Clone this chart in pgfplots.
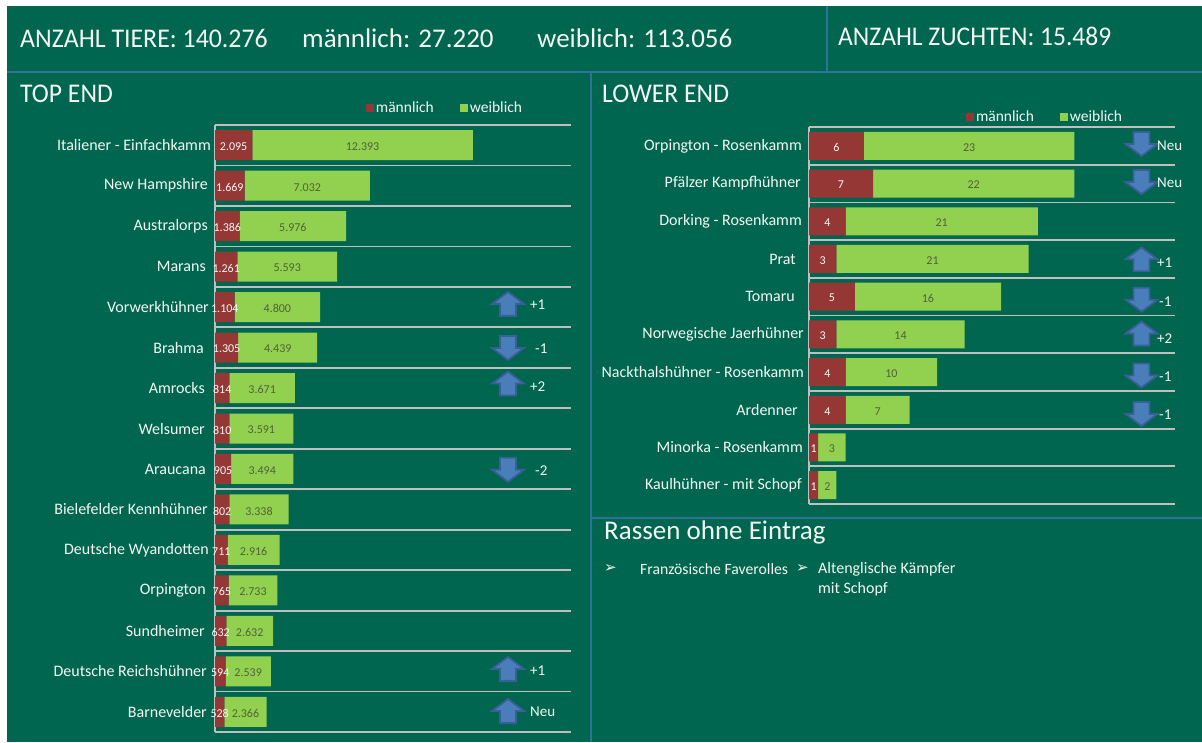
\documentclass[border=0pt]{standalone}
\usepackage{fontspec}
\setmainfont{Carlito}
\newfontfamily\symb{DejaVu Sans}
\usepackage{pgfplots}
\usepackage{pgfplotstable}
\pgfplotsset{compat=1.18}
\definecolor{bg}{HTML}{00664F}
\definecolor{sep}{HTML}{2F7299}
\definecolor{male}{HTML}{953735}
\definecolor{female}{HTML}{92D050}
\definecolor{gridc}{HTML}{BFBFBF}
\definecolor{arrf}{HTML}{4A7EBB}
\definecolor{arrd}{HTML}{3A5F96}
\definecolor{dlab}{HTML}{4F6238}
\definecolor{txt}{HTML}{F4F8F4}
\pgfdeclareplotmark{uparr}{%
 \pgfpathmoveto{\pgfqpoint{-16pt}{0pt}}\pgfpathlineto{\pgfqpoint{0pt}{12pt}}\pgfpathlineto{\pgfqpoint{16pt}{0pt}}%
 \pgfpathlineto{\pgfqpoint{8pt}{0pt}}\pgfpathlineto{\pgfqpoint{8pt}{-12pt}}\pgfpathlineto{\pgfqpoint{-8pt}{-12pt}}\pgfpathlineto{\pgfqpoint{-8pt}{0pt}}\pgfpathclose\pgfusepathqfillstroke}
\pgfdeclareplotmark{downarr}{%
 \pgfpathmoveto{\pgfqpoint{-16pt}{0pt}}\pgfpathlineto{\pgfqpoint{0pt}{-12pt}}\pgfpathlineto{\pgfqpoint{16pt}{0pt}}%
 \pgfpathlineto{\pgfqpoint{8pt}{0pt}}\pgfpathlineto{\pgfqpoint{8pt}{12pt}}\pgfpathlineto{\pgfqpoint{-8pt}{12pt}}\pgfpathlineto{\pgfqpoint{-8pt}{0pt}}\pgfpathclose\pgfusepathqfillstroke}
\pgfplotstableread{
m w
2095 12393
1669 7032
1386 5976
1261 5593
1104 4800
1305 4439
814 3671
810 3591
905 3494
802 3338
711 2916
765 2733
632 2632
594 2539
528 2366
}\topdata
\pgfplotstableread{
m w
6 23
7 22
4 21
3 21
5 16
3 14
4 10
4 7
1 3
1 2
}\lowdata
\pgfplotsset{
 barax/.style={scale only axis, clip=false, y dir=reverse,
  axis x line=none, axis y line*=left, y axis line style={-,draw=gridc,line width=1.8pt},
  major tick style={draw=none}, minor tick style={draw=none},
  yminorgrids=true, minor grid style={draw=gridc,line width=1.8pt},
  xbar stacked, bar shift=0pt,
  yticklabel style={font=\fontsize{16}{18}\selectfont, text=txt, anchor=east, inner sep=0pt, xshift=-4pt},
  legend columns=2, legend cell align=left,
  legend style={draw=none, fill=none, text=txt, font=\fontsize{15.5}{18}\selectfont, anchor=center,
    /tikz/every even column/.append style={column sep=24pt}, inner sep=0pt},
  legend image code/.code={\fill[##1] (0pt,-4pt) rectangle (8pt,4pt);},
 },
 labax/.style={scale only axis, clip=false, y dir=reverse, hide axis,
  /pgf/number format/.cd, fixed, 1000 sep={.}, assume math mode=true, /pgfplots/.cd},
 mlab/.style={draw=none, mark=none, nodes near coords, point meta=explicit,
  every node near coord/.append style={anchor=center, inner sep=0pt, yshift=-1.5pt, text=txt, font=\fontsize{12}{14}\selectfont}},
 flab/.style={draw=none, mark=none, nodes near coords, point meta=explicit,
  every node near coord/.append style={anchor=center, inner sep=0pt, yshift=-1.5pt, text=dlab, font=\fontsize{12}{14}\selectfont}},
 arr/.style={only marks, mark=#1, mark options={fill=arrf, draw=arrd, line width=1.8pt}},
 arrlab/.style={draw=none, mark=none, nodes near coords, point meta=explicit symbolic,
  every node near coord/.append style={anchor=west, inner sep=0pt, text=txt, font=\fontsize{15}{18}\selectfont}},
}
\begin{document}
\begin{tikzpicture}
\path[use as bounding box] (0pt,0pt) rectangle (1202pt,-742pt);
\fill[white] (0pt,0pt) rectangle (1202pt,-742pt);
\fill[bg] (7pt,-6pt) rectangle (1202pt,-742pt);
\draw[sep,line width=1.4pt] (7pt,-72pt) -- (1202pt,-72pt);
\draw[sep,line width=1.4pt] (827pt,-6pt) -- (827pt,-72pt);
\draw[sep,line width=1.4pt] (591pt,-72pt) -- (591pt,-742pt);
\draw[sep,line width=1.4pt] (591pt,-518pt) -- (1202pt,-518pt);

\begin{axis}[barax, at={(215pt,-732pt)}, anchor=south west, width=356pt, height=607pt,
  xmin=0, xmax=20000, ymin=-0.5, ymax=14.5, bar width=30pt,
  ytick={0,...,14}, minor ytick={-0.5,0.5,...,14.5},
  yticklabels={Italiener - Einfachkamm,New Hampshire\kern3pt,Australorps\kern3pt,Marans\kern5pt,Vorwerkhühner\kern2pt,Brahma\kern7pt,Amrocks\kern6pt,Welsumer\kern6pt,Araucana\kern5pt,Bielefelder Kennhühner\kern3pt,Deutsche Wyandotten\kern2pt,Orpington\kern5pt,Sundheimer\kern6pt,Deutsche Reichshühner\kern4pt,Barnevelder\kern4pt},
  legend style={at={(0.646,1.028)}}]
\addplot[fill=male,draw=none] table[x=m,y expr=\coordindex]{\topdata};
\addplot[fill=female,draw=none] table[x=w,y expr=\coordindex]{\topdata};
\legend{männlich,weiblich}
\end{axis}
\begin{axis}[labax, at={(215pt,-732pt)}, anchor=south west, width=356pt, height=607pt,
  xmin=0, xmax=20000, ymin=-0.5, ymax=14.5]
\addplot[mlab] table[x expr=\thisrow{m}/2,y expr=\coordindex,meta=m]{\topdata};
\addplot[flab] table[x expr=\thisrow{m}+\thisrow{w}/2,y expr=\coordindex,meta=w]{\topdata};
\addplot[arr=uparr] table[x=x,y=y]{
x y
16461 3.92
16461 5.89
16461 12.94
16461 13.98
};
\addplot[arr=downarr] table[x=x,y=y]{
x y
16461 5.01
16461 8.02
};
\addplot[arrlab] table[x=x,y=y,meta=t]{
x y t
17697 3.95 +1
17978 5.03 -1
17697 5.97 +2
17978 8.05 -2
17697 12.99 +1
17697 14.0 Neu
};
\end{axis}

\begin{axis}[barax, at={(809pt,-504pt)}, anchor=south west, width=366pt, height=377pt,
  xmin=0, xmax=40, ymin=-0.5, ymax=9.5, bar width=28pt,
  ytick={0,...,9}, minor ytick={-0.5,0.5,...,9.5},
  yticklabels={Orpington - Rosenkamm\kern3pt,Pfälzer Kampfhühner\kern4pt,Dorking - Rosenkamm\kern3pt,Prat\kern9pt,Tomaru\kern10pt,Norwegische Jaerhühner\kern1pt,Nackthalshühner - Rosenkamm\kern1pt,Ardenner\kern7pt,Minorka - Rosenkamm\kern2pt,Kaulhühner - mit Schopf\kern3pt},
  legend style={at={(0.645,1.0265)}}]
\addplot[fill=male,draw=none] table[x=m,y expr=\coordindex]{\lowdata};
\addplot[fill=female,draw=none] table[x=w,y expr=\coordindex]{\lowdata};
\legend{männlich,weiblich}
\end{axis}
\begin{axis}[labax, at={(809pt,-504pt)}, anchor=south west, width=366pt, height=377pt,
  xmin=0, xmax=40, ymin=-0.5, ymax=9.5]
\addplot[mlab] table[x expr=\thisrow{m}/2,y expr=\coordindex,meta=m]{\lowdata};
\addplot[flab] table[x expr=\thisrow{m}+\thisrow{w}/2,y expr=\coordindex,meta=w]{\lowdata};
\addplot[arr=uparr] table[x=x,y=y]{
x y
36.34 3.01
36.34 4.98
};
\addplot[arr=downarr] table[x=x,y=y]{
x y
36.34 -0.05
36.34 0.96
36.34 4.08
36.34 6.09
36.34 7.11
};
\addplot[arrlab] table[x=x,y=y,meta=t]{
x y t
38.03 0 Neu
38.03 0.99 Neu
38.03 3.11 +1
38.25 4.12 -1
38.03 5.12 +2
38.25 6.13 -1
38.25 7.14 -1
};
\end{axis}

\tikzset{every node/.style={text=txt, inner sep=0pt, anchor=west}}
\node[font=\fontsize{27}{30}\selectfont] at (20pt,-38pt) {\scalebox{0.957}[1]{ANZAHL TIERE: 140.276}};
\node[font=\fontsize{27}{30}\selectfont] at (302pt,-38pt) {männlich: 27.220};
\node[font=\fontsize{27}{30}\selectfont] at (537pt,-38pt) {weiblich: 113.056};
\node[font=\fontsize{27}{30}\selectfont] at (838pt,-36pt) {\scalebox{0.945}[1]{ANZAHL ZUCHTEN: 15.489}};
\node[font=\fontsize{27}{30}\selectfont] at (20pt,-94pt) {\scalebox{0.95}[1]{TOP END}};
\node[font=\fontsize{27}{30}\selectfont] at (602pt,-94pt) {\scalebox{0.95}[1]{LOWER END}};
\node[font=\fontsize{27}{30}\selectfont] at (604pt,-532pt) {Rassen ohne Eintrag};
\node[font=\fontsize{15.7}{18}\selectfont] at (640pt,-569pt) {Französische\ Faverolles};
\node[font=\fontsize{16}{18}\selectfont] at (818pt,-569pt) {Altenglische Kämpfer};
\node[font=\fontsize{16}{18}\selectfont] at (818pt,-589pt) {mit Schopf};
\node[font=\symb\fontsize{15}{18}\selectfont] at (604pt,-568pt) {➢};
\node[font=\symb\fontsize{15}{18}\selectfont] at (796pt,-568pt) {➢};
\end{tikzpicture}
\end{document}
